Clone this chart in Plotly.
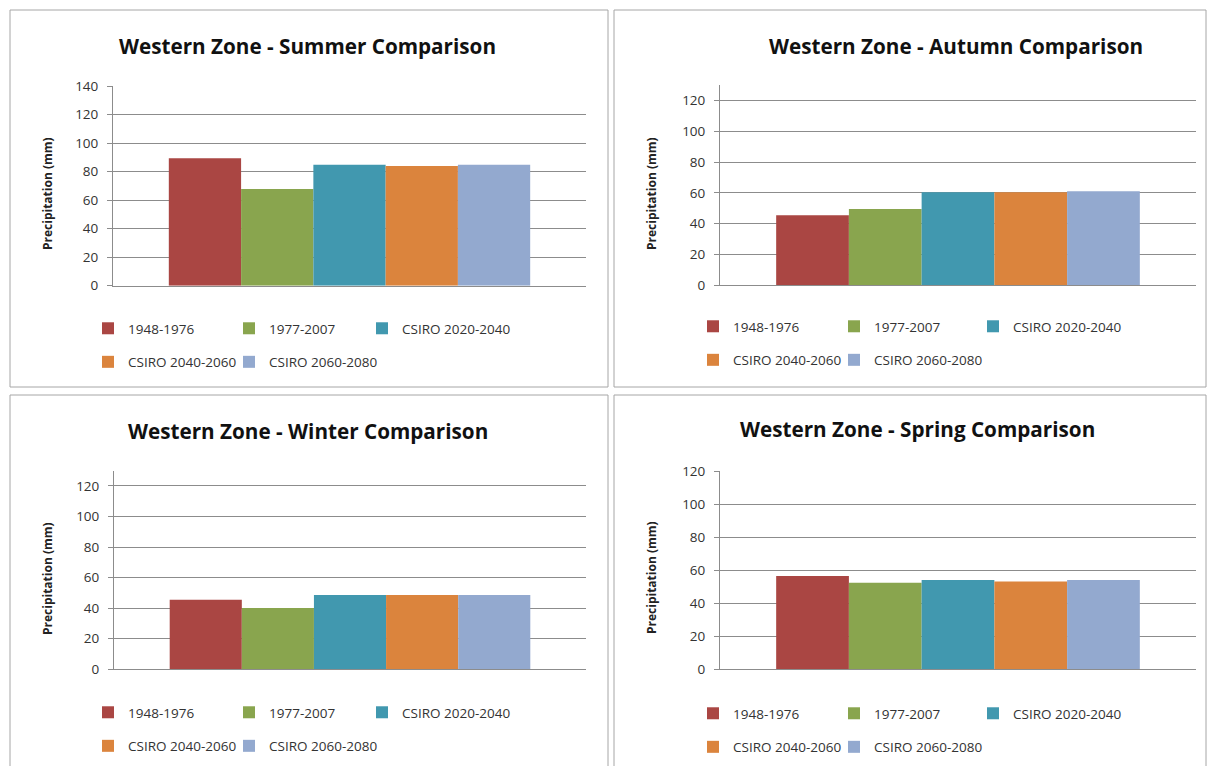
import plotly.graph_objects as go

# Seasonal precipitation (mm) for the Western Zone, by period
periods = ["1948-1976", "1977-2007", "CSIRO 2020-2040", "CSIRO 2040-2060", "CSIRO 2060-2080"]
summer = [89.3, 67.8, 84.8, 83.9, 84.8]
autumn = [45.4, 49.4, 60.3, 60.3, 61.0]
winter = [45.5, 40.2, 48.7, 48.7, 48.7]
spring = [56.4, 52.4, 54.0, 53.2, 54.0]

seasons = ["Summer", "Autumn", "Winter", "Spring"]
season_values = [summer, autumn, winter, spring]
y_max = [140, 130, 130, 120]

colors = ["#AA4643", "#89A54E", "#4198AF", "#DB843D", "#93A9CF"]
# legend column for each period: two rows of three and two entries
legend_column = [0, 1, 2, 0, 1]

W, H = 1210, 766
GRID = "#8C8C8C"
BORDER = "#A6A6A6"
FONT = "Open Sans"


def px_x(x):
    return x / W


def px_y(y):
    return 1 - y / H


# panel geometry in pixels: plot-area left/right, zero line, top of range
panels = [
    dict(x0=113, x1=586, y0=285.7, y1=86.0, box=(10, 10, 608, 387), title=(307, 46),
         ylab=(47, 194), leg_cols=(88, 229, 362), leg_top=313),
    dict(x0=720, x1=1196, y0=285.0, y1=85.3, box=(614, 10, 1206, 387), title=(956, 46),
         ylab=(651, 194), leg_cols=(693, 834, 973), leg_top=311),
    dict(x0=114, x1=586, y0=669.3, y1=470.7, box=(10, 395, 608, 790), title=(308, 431),
         ylab=(47, 579), leg_cols=(88, 229, 362), leg_top=697),
    dict(x0=720, x1=1196, y0=669.3, y1=471.0, box=(614, 395, 1206, 790), title=(917, 429),
         ylab=(651, 578), leg_cols=(693, 834, 973), leg_top=698),
]

fig = go.Figure()
layout = dict(
    width=W, height=H,
    margin=dict(l=0, r=0, t=0, b=0, autoexpand=False),
    paper_bgcolor="white", plot_bgcolor="white",
    barmode="group", bargap=0.236, bargroupgap=0,
    font=dict(family=FONT, color="#333333"),
    showlegend=True,
)
annotations = []
shapes = []

legend_count = 0
for p, (season, vals, ymax, g) in enumerate(zip(seasons, season_values, y_max, panels)):
    xa = "xaxis" if p == 0 else f"xaxis{p + 1}"
    ya = "yaxis" if p == 0 else f"yaxis{p + 1}"
    xr = "x" if p == 0 else f"x{p + 1}"
    yr = "y" if p == 0 else f"y{p + 1}"

    leg_names = []
    for c, lx in enumerate(g["leg_cols"]):
        legend_count += 1
        name = "legend" if legend_count == 1 else f"legend{legend_count}"
        leg_names.append(name)
        layout[name] = dict(
            orientation="v", x=px_x(lx), y=px_y(g["leg_top"]),
            xanchor="left", yanchor="top", xref="paper", yref="paper",
            font=dict(size=13.5, color="#333333", family=FONT),
            bgcolor="rgba(0,0,0,0)", borderwidth=0, tracegroupgap=13,
            itemclick=False, itemdoubleclick=False,
        )

    for i, (name, v) in enumerate(zip(periods, vals)):
        fig.add_trace(go.Bar(
            x=[season], y=[v], name=name, xaxis=xr, yaxis=yr,
            marker=dict(color=colors[i], line=dict(width=0)),
            legend=leg_names[legend_column[i]],
            legendgroup=f"{season}-{i}",
        ))

    layout[xa] = dict(
        domain=[px_x(g["x0"]), px_x(g["x1"])], anchor=yr,
        showticklabels=False, ticks="", showgrid=False, automargin=False,
        showline=True, linecolor=GRID, linewidth=1, fixedrange=True,
    )
    layout[ya] = dict(
        domain=[px_y(g["y0"]), px_y(g["y1"])], anchor=xr,
        range=[0, ymax], tick0=0, dtick=20, automargin=False,
        showgrid=True, gridcolor=GRID, gridwidth=1, zeroline=False,
        showline=True, linecolor=GRID, linewidth=1,
        ticks="outside", ticklen=5, tickcolor=GRID, ticklabelstandoff=6,
        tickfont=dict(size=13.5, color="#333333", family=FONT), fixedrange=True,
    )

    annotations.append(dict(
        text=f"<b>Western Zone - {season} Comparison</b>",
        x=px_x(g["title"][0]), y=px_y(g["title"][1]), xref="paper", yref="paper",
        xanchor="center", yanchor="middle", showarrow=False,
        font=dict(size=20.7, color="#111111", family=FONT),
    ))
    annotations.append(dict(
        text="<b>Precipitation (mm)</b>",
        x=px_x(g["ylab"][0]), y=px_y(g["ylab"][1]), xref="paper", yref="paper",
        xanchor="center", yanchor="middle", showarrow=False, textangle=-90,
        font=dict(size=12, color="#222222", family=FONT),
    ))
    bx0, by0, bx1, by1 = g["box"]
    shapes.append(dict(
        type="rect", xref="paper", yref="paper",
        x0=px_x(bx0), x1=px_x(bx1), y0=px_y(by0), y1=px_y(by1),
        line=dict(color=BORDER, width=1), fillcolor="rgba(0,0,0,0)", layer="below",
    ))

layout["annotations"] = annotations
layout["shapes"] = shapes
fig.update_layout(**layout)

fig.write_html("out.html", config=dict(displayModeBar=False))
